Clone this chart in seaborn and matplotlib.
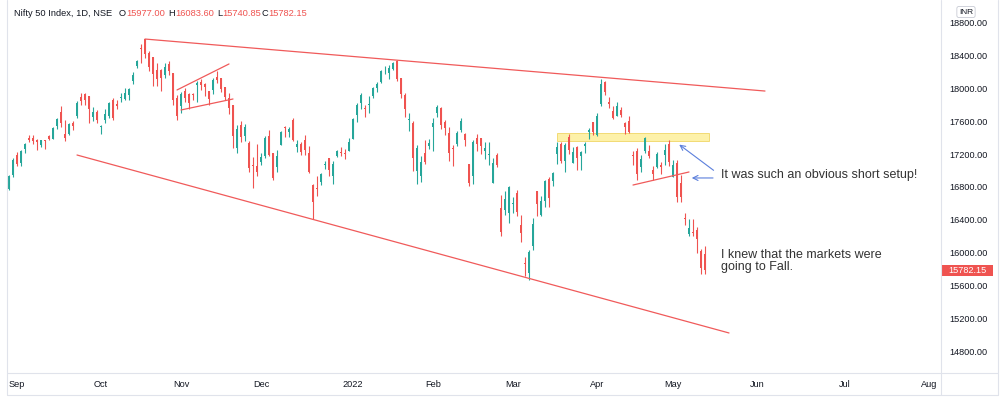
import numpy as np
import pandas as pd
import matplotlib
matplotlib.use('Agg')
import matplotlib.pyplot as plt
import seaborn as sns
from matplotlib.lines import Line2D
from matplotlib.patches import Rectangle
from matplotlib.transforms import blended_transform_factory

# NSE holidays in the window (no bars on these days)
holidays = ['2021-09-10', '2021-10-15', '2021-11-05', '2021-11-19', '2022-01-26',
            '2022-03-01', '2022-03-18', '2022-04-14', '2022-04-15', '2022-05-03']

opens = [16775, 16947,
         17185, 17095, 17262, 17400, 17401, 17375, 17313, 17363, 17420, 17387, 17540, 17710, 17443, 17450, 17578,
         17671, 17898, 17932, 17906, 17657, 17718,
         17531, 17615, 17661, 17862, 17810, 17887, 17867, 17916, 18097, 18273, 18500, 18602, 18439, 18382, 18230,
         18229, 18169, 18295, 18188, 17890,
         17784, 17970, 17935, 17936, 18040, 18084, 18050, 17967, 17977, 18141, 18127, 18015, 17890, 17796, 17281,
         17550, 17417, 17339, 17056, 17051,
         17104, 17183, 17425, 17209, 17044, 17315, 17524, 17476, 17619, 17283, 17324, 17374, 17209, 16825, 16773,
         16865, 17067, 17149, 16937, 17177, 17220, 17213, 17244,
         17388, 17681, 17821, 17768, 17797, 17913, 18003, 18080, 18257, 18185, 18235, 18337, 18129, 17921, 17613,
         17575, 17001, 16929, 17209, 17301,
         17529, 17706, 17767, 17591, 17456, 17279, 17320, 17495, 17451, 17077, 16933, 17398, 17397, 17236, 17193,
         16848, 17194, 16549, 16515, 16481,
         16593, 16723, 16339, 15867, 15747, 16078, 16757, 16457, 16634, 16900, 16876, 17202, 17329, 17121, 17406,
         17094, 17289, 17181, 17297, 17468, 17591,
         17436, 17809, 18080, 17842, 17723, 17668, 17740, 17584, 17599, 17183, 17234, 17045, 17234, 17242, 17009,
         17043, 17073, 17189, 17329,
         16925, 17096, 16854, 16415, 16227, 16248, 16270, 16021, 15977.00]

highs = [16951, 17153,
         17225, 17245, 17341, 17430, 17437, 17384, 17379, 17378, 17439, 17532, 17644, 17793, 17622, 17579, 17610,
         17843, 17947, 17943, 17912, 17781, 17742,
         17557, 17750, 17833, 17884, 17857, 17941, 18008, 18009, 18197, 18350, 18543, 18604, 18458, 18384, 18314,
         18241, 18311, 18342, 18190, 17916,
         17954, 18012, 17947, 17947, 18087, 18112, 18062, 17971, 18123, 18210, 18132, 18022, 17945, 17805, 17553,
         17601, 17564, 17355, 17160, 17324,
         17213, 17420, 17489, 17216, 17251, 17484, 17543, 17534, 17639, 17376, 17351, 17439, 17298, 16840, 16937,
         16971, 17118, 17155, 17112, 17250, 17285, 17265, 17400,
         17647, 17827, 17944, 17797, 17905, 18017, 18081, 18228, 18272, 18286, 18322, 18351, 18129, 17944, 17707,
         17599, 17309, 17182, 17373, 17381,
         17636, 17794, 17781, 17617, 17536, 17306, 17477, 17639, 17454, 17077, 17375, 17442, 17397, 17352, 17352,
         17148, 17220, 16706, 16748, 16816,
         16678, 16768, 16456, 15945, 16029, 16418, 16757, 16694, 16887, 16927, 16987, 17344, 17353, 17334, 17443,
         17291, 17294, 17236, 17343, 17522, 17591,
         17704, 18115, 18095, 17901, 17787, 17842, 17779, 17597, 17663, 17238, 17275, 17186, 17414, 17315, 17054,
         17223, 17110, 17322, 17378,
         17132, 17132, 16946, 16484, 16404, 16404, 16318, 16042, 16083.60]

lows = [16764, 16916,
        17055, 17060, 17215, 17345, 17326, 17254, 17287, 17269, 17368, 17386, 17510, 17537, 17361, 17430, 17491,
        17646, 17799, 17802, 17576, 17608, 17585,
        17452, 17581, 17640, 17613, 17757, 17841, 17864, 17864, 18050, 18248, 18315, 18377, 18209, 18034, 18034,
        17968, 18129, 18167, 17799, 17614,
        17697, 17832, 17757, 17864, 17836, 17983, 17915, 17798, 17934, 18071, 17959, 17864, 17688, 17280, 17216,
        17354, 17355, 16983, 16782, 16931,
        17064, 17149, 17180, 16891, 16987, 17308, 17412, 17405, 17355, 17225, 17192, 17184, 16966, 16410, 16688,
        16819, 17015, 16934, 16833, 17162, 17176, 17146, 17238,
        17383, 17593, 17748, 17655, 17704, 17879, 17964, 18070, 18172, 18119, 18228, 18091, 17885, 17649, 17485,
        16998, 16837, 16866, 17077, 17264,
        17244, 17654, 17511, 17433, 17119, 17060, 17302, 17471, 17303, 16810, 16839, 17240, 17205, 17147, 17070,
        16844, 17043, 16203, 16456, 16356,
        16478, 16443, 16133, 15711, 15671, 16029, 16447, 16447, 16555, 16555, 16808, 17076, 17096, 16985, 17208,
        17091, 17004, 17006, 17211, 17387, 17435,
        17422, 17791, 17921, 17765, 17623, 17664, 17650, 17442, 17457, 17067, 16888, 16978, 17216, 17149, 16889,
        17036, 16958, 17071, 17054,
        16917, 16623, 16623, 16340, 16197, 16204, 15992, 15735, 15740.85]

closes = [16931, 17132,
          17076, 17234, 17324, 17377, 17362, 17353, 17369, 17355, 17380, 17519, 17629, 17585, 17396, 17562, 17546,
          17823, 17853, 17855, 17748, 17711, 17618,
          17532, 17691, 17822, 17646, 17790, 17895, 17946, 17992, 18161, 18338, 18477, 18418, 18266, 18178, 18114,
          18125, 18268, 18210, 17857, 17671,
          17929, 17888, 17829, 17916, 18068, 18044, 18017, 17873, 18102, 18109, 17999, 17898, 17765, 17416, 17503,
          17415, 17536, 17026, 17053, 16983,
          17167, 17401, 17196, 16912, 17176, 17469, 17516, 17511, 17368, 17324, 17221, 17248, 16985, 16614, 16770,
          16955, 17072, 17004, 17086, 17233, 17214, 17204, 17354,
          17625, 17805, 17925, 17746, 17812, 18003, 18056, 18212, 18258, 18256, 18309, 18113, 17938, 17757, 17617,
          17149, 17278, 17110, 17102, 17340,
          17576, 17780, 17560, 17516, 17214, 17266, 17464, 17606, 17374, 16843, 17352, 17322, 17304, 17276, 17207,
          17092, 17063, 16248, 16658, 16794,
          16606, 16498, 16245, 15863, 16013, 16345, 16594, 16630, 16871, 16663, 16975, 17287, 17117, 17316, 17245,
          17223, 17153, 17222, 17325, 17498, 17465,
          17670, 18053, 17957, 17808, 17640, 17784, 17675, 17530, 17476, 17174, 16959, 17137, 17393, 17172, 16954,
          17200, 17039, 17245, 17103,
          17069, 16678, 16683, 16411, 16301, 16240, 16167, 15808, 15782.15]

month_labels = ['Sep', 'Oct', 'Nov', 'Dec', '2022', 'Feb', 'Mar', 'Apr', 'May', 'Jun', 'Jul', 'Aug']
price_ticks = [14800, 15200, 15600, 16000, 16400, 16800, 17200, 17600, 18000, 18400, 18800]

# drawings on the chart: (dates, prices)
upper_trend = (['2021-10-19', '2022-06-03'], [18604, 17970])
lower_trend = (['2021-09-23', '2022-05-23'], [17190, 15020])
flag_top = (['2021-10-29', '2021-11-18'], [17983, 18300])
flag_bottom = (['2021-11-01', '2021-11-22'], [17739, 17873])
may_line = (['2022-04-18', '2022-05-09'], [16824, 16983])
zone = ('2022-03-17', '2022-05-16', 17360, 17458)
note_short = 'It was such an obvious short setup!'
note_fall = 'I knew that the markets were\ngoing to Fall.'

UP = '#26a69a'
DOWN = '#ef5350'
LINE_RED = '#f05a5a'
BLUE = '#5b7fdc'
TXT = '#131722'
GRID = '#e0e3eb'

# bar index for every trading day, then weekdays for the empty future part
trade_days = pd.bdate_range('2021-08-30', '2022-05-13').difference(pd.to_datetime(holidays))
future_days = pd.bdate_range('2022-05-16', '2022-08-31')
all_days = trade_days.append(future_days)
bar_of = pd.Series(np.arange(len(all_days)), index=all_days)


def pos(d):
    return bar_of[pd.Timestamp(d)]


o = np.array(opens, float)
h = np.array(highs, float)
l = np.array(lows, float)
c = np.array(closes, float)
idx = np.arange(len(c))
cols = np.where(c >= o, UP, DOWN)

sns.set_theme(style='white')
plt.rcParams['font.family'] = ['Liberation Sans', 'DejaVu Sans']

fig = plt.figure(figsize=(10, 3.98), dpi=100)
ax = fig.add_axes([7 / 1000, 25 / 398, 934 / 1000, 373 / 398])

ax.vlines(idx, l, h, colors=cols, lw=0.8, zorder=3)
ax.bar(idx, np.maximum(np.abs(c - o), 12), bottom=np.minimum(o, c), width=0.66,
       color=cols, linewidth=0, zorder=4)

# drawings
for xs, ys in [upper_trend, lower_trend, flag_top, flag_bottom, may_line]:
    ax.plot([pos(d) for d in xs], ys, color=LINE_RED, lw=0.9, zorder=5)

x0, x1 = pos(zone[0]), pos(zone[1])
ax.add_patch(Rectangle((x0, zone[2]), x1 - x0, zone[3] - zone[2],
                       facecolor='#fdf0a0', edgecolor='#efd25a', lw=0.6, alpha=0.9, zorder=2))

tail = pos('2022-05-18') - 0.3
ax.annotate('', xy=(pos('2022-05-04'), 17337), xytext=(tail, 16983),
            arrowprops=dict(arrowstyle='->', color=BLUE, lw=0.8, mutation_scale=9), zorder=6)
ax.annotate('', xy=(pos('2022-05-09'), 16910), xytext=(tail, 16910),
            arrowprops=dict(arrowstyle='->', color=BLUE, lw=0.8, mutation_scale=9), zorder=6)

ax.text(pos('2022-05-19'), 16946, note_short, fontsize=9.0, color='#333333', va='center', ha='left')
ax.text(pos('2022-05-19'), 15898, note_fall, fontsize=9.0, color='#333333', va='center', ha='left',
        linespacing=1.05)

ax.set_xlim(-0.5, 233)
ax.set_ylim(14532, 19080)

firsts = bar_of.groupby([all_days.year, all_days.month]).first().values[1:]
ax.set_xticks(firsts)
ax.set_xticklabels(month_labels)
ax.yaxis.tick_right()
ax.set_yticks(price_ticks)
ax.set_yticklabels([f'{v:.2f}' for v in price_ticks])
ax.tick_params(axis='x', length=0, pad=5, labelsize=6.6, labelcolor=TXT)
ax.tick_params(axis='y', length=0, pad=6, labelsize=6.6, labelcolor=TXT)
for s in ax.spines.values():
    s.set_visible(False)
ax.grid(False)

# last price marker on the price scale
tr = blended_transform_factory(ax.transAxes, ax.transData)
ax.add_patch(Rectangle((1.0, c[-1] - 67), 52 / 934, 134, transform=tr, facecolor=DOWN,
                       edgecolor='none', clip_on=False, zorder=7))
ax.text(1.0 + 26 / 934, c[-1], f'{c[-1]:.2f}', transform=tr, ha='center', va='center',
        fontsize=6.6, color='white', zorder=8)

# panel separators
fig.add_artist(Line2D([941 / 1000, 941 / 1000], [3 / 398, 1], color=GRID, lw=0.8))
fig.add_artist(Line2D([7 / 1000, 998 / 1000], [25 / 398, 25 / 398], color=GRID, lw=0.8))
fig.add_artist(Line2D([7 / 1000, 998 / 1000], [3 / 398, 3 / 398], color=GRID, lw=0.8))
fig.add_artist(Line2D([7 / 1000, 7 / 1000], [3 / 398, 1], color=GRID, lw=0.8))
fig.add_artist(Line2D([998 / 1000, 998 / 1000], [3 / 398, 1], color=GRID, lw=0.8))

fig.text(966 / 1000, 1 - 12 / 398, 'INR', fontsize=6, color=TXT, ha='center', va='center',
         bbox=dict(boxstyle='round,pad=0.25', fc='white', ec='#c8cbd4', lw=0.6))

# legend line at the top
hy = 1 - 14 / 398
fig.text(14 / 1000, hy, 'Nifty 50 Index, 1D, NSE', fontsize=6.7, color=TXT, va='center')
for lab, lx, val, vx in [('O', 119, o[-1], 126), ('H', 168, h[-1], 175),
                         ('L', 217, l[-1], 222), ('C', 262, c[-1], 268)]:
    fig.text(lx / 1000, hy, lab, fontsize=6.7, color=TXT, va='center')
    fig.text(vx / 1000, hy, f'{val:.2f}', fontsize=6.7, color=DOWN, va='center')

fig.savefig('out.png', dpi=100, facecolor='white')
